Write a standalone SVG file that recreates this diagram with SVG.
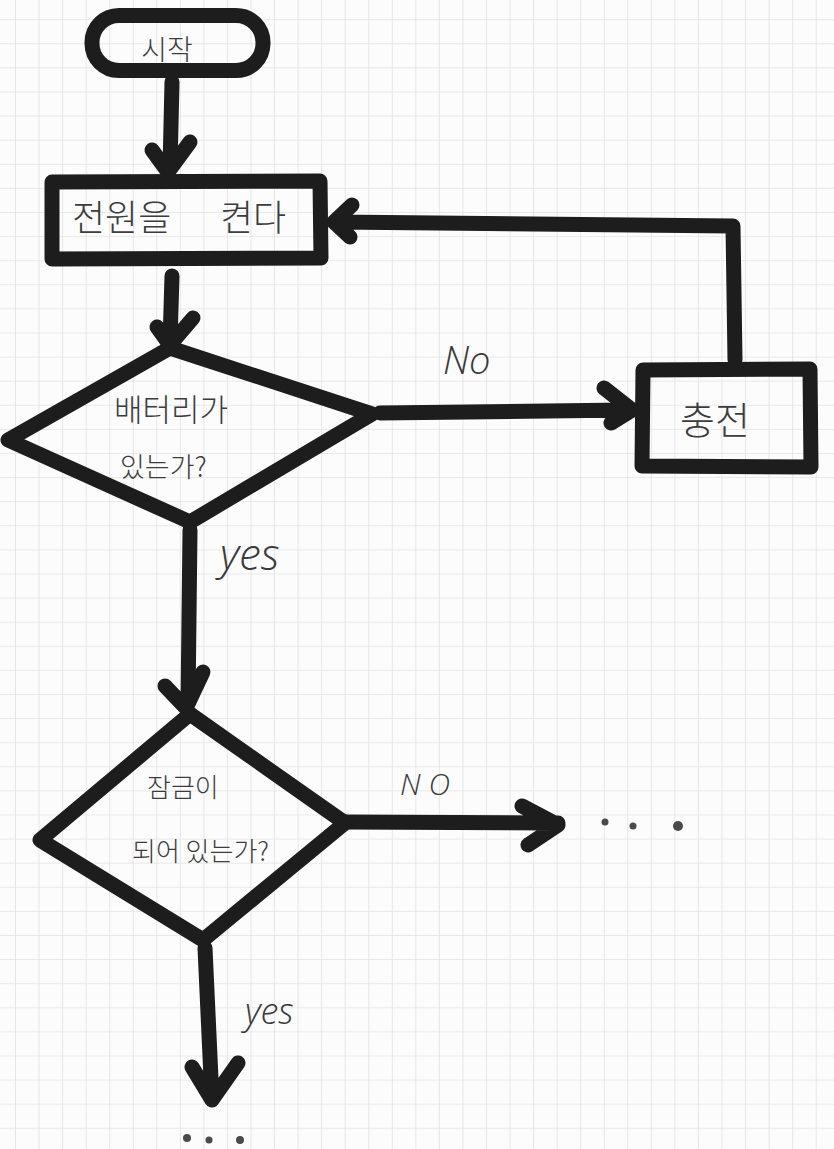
<svg xmlns="http://www.w3.org/2000/svg" width="834" height="1149" viewBox="0 0 834 1149">
  <defs>
    <pattern id="grid" patternUnits="userSpaceOnUse" x="15" y="19.2" width="23.55" height="24.1">
      <path d="M0 0 H23.55 M0 0 V24.1" fill="none" stroke="#e2e2e2" stroke-width="1.6"/>
    </pattern>
    <style>
      .shape { fill: none; stroke: #1d1d1d; stroke-width: 15; stroke-linecap: round; stroke-linejoin: round; }
      .conn { fill: none; stroke: #1d1d1d; stroke-width: 15; stroke-linecap: round; stroke-linejoin: round; }
      .ko { font-family: "Noto Sans CJK KR", "Noto Sans", sans-serif; font-weight: 300; fill: #3c3c3c; }
      .lbl { font-family: "Open Sans", "Liberation Sans", sans-serif; font-style: italic; font-weight: 300; fill: #3a3a3a; }
      .dot { fill: #4a4a4a; }
    </style>
  </defs>
  <rect x="0" y="0" width="834" height="1149" fill="#fcfcfc"/>
  <rect x="0" y="0" width="834" height="1149" fill="url(#grid)"/>

  <g id="connectors">
    <path class="conn" d="M172 82 L170 168 M152 150 L168 172 L190 142"/>
    <path class="conn" d="M172 276 L170 342 M157 327 L170 345 L193 318"/>
    <path class="conn" d="M380 413 L626 410 M604 388 L632 410 L611 423"/>
    <path class="conn" d="M735 360 L733 226 L336 222 M352 205 L334 222 L350 237"/>
    <path class="conn" d="M190 530 L188 704 M165 686 L186 708 L203 672"/>
    <path class="conn" d="M345 822 L558 823 M522 806 L558 825 L528 845"/>
    <path class="conn" d="M205 948 L212 1100 M192 1067 L212 1100 L238 1063"/>
  </g>

  <g id="start">
    <rect class="shape" x="92" y="15.5" width="171" height="55" rx="27"/>
    <text class="ko" x="167" y="60" font-size="28" text-anchor="middle">시작</text>
  </g>

  <g id="power-on">
    <path class="shape" d="M52 182 L320 181 L321 258 L52 259 Z"/>
    <text class="ko" y="231" font-size="36"><tspan x="72">전원을</tspan><tspan x="220">켠다</tspan></text>
  </g>

  <g id="battery-check">
    <path class="shape" d="M170 348 L372 414 L190 522 L8 440 Z"/>
    <text class="ko" x="114" y="421" font-size="31">배터리가</text>
    <text class="ko" x="120" y="477" font-size="27">있는가?</text>
  </g>

  <g id="charge">
    <path class="shape" d="M643 370 L810 369 L811 467 L642 466 Z"/>
    <text class="ko" x="680" y="434" font-size="38">충전</text>
  </g>

  <g id="lock-check">
    <path class="shape" d="M190 714 L345 823 L203 940 L40 840 Z"/>
    <text class="ko" x="147" y="797" font-size="26">잠금이</text>
    <text class="ko" x="132" y="861" font-size="26">되어 있는가?</text>
  </g>

  <g id="labels">
    <text class="lbl" x="443" y="374" font-size="38">No</text>
    <text class="lbl" x="220" y="570" font-size="44">yes</text>
    <text class="lbl" x="400" y="795" font-size="30" letter-spacing="8">NO</text>
    <text class="lbl" x="245" y="1024" font-size="36">yes</text>
  </g>

  <g id="ellipsis-right">
    <circle class="dot" cx="605" cy="822" r="3.5"/>
    <circle class="dot" cx="633" cy="826" r="3.5"/>
    <circle class="dot" cx="678" cy="826" r="5"/>
  </g>
  <g id="ellipsis-bottom">
    <circle class="dot" cx="187" cy="1138" r="4"/>
    <circle class="dot" cx="209" cy="1140" r="3.5"/>
    <circle class="dot" cx="240" cy="1140" r="4"/>
  </g>
</svg>
